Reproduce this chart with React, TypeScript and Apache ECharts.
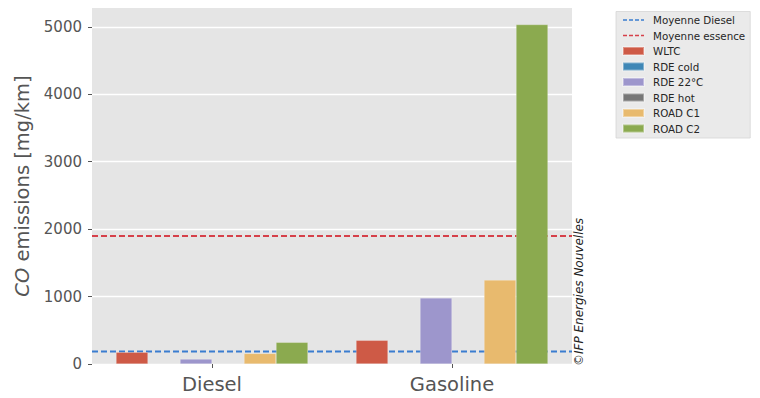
import React, { useEffect, useRef } from "react";
import * as echarts from "echarts";

const categories = ["Diesel", "Gasoline"];
const seriesNames = ["WLTC", "RDE cold", "RDE 22°C", "RDE hot", "ROAD C1", "ROAD C2"];
const wltc = [175, 352];
const rdeCold: (number | null)[] = [null, null];
const rde22 = [74, 980];
const rdeHot: (number | null)[] = [null, null];
const roadC1 = [158, 1245];
const roadC2 = [322, 5035];
const meanDiesel = 185;
const meanEssence = 1900;
const yTicks = [0, 1000, 2000, 3000, 4000, 5000];

const barValues = [wltc, rdeCold, rde22, rdeHot, roadC1, roadC2];
const barColors = ["#CE5A46", "#3F87B6", "#9D96CC", "#777777", "#E8BA6E", "#8BAA4F"];
const FONT = "DejaVu Sans";

export default function App() {
  const ref = useRef<HTMLDivElement>(null);
  useEffect(() => {
    if (!ref.current) return;
    const chart = echarts.init(ref.current, null, { renderer: "svg" });
    const bars = seriesNames.map((name, i) => ({
      name,
      type: "bar",
      xAxisIndex: 0,
      yAxisIndex: 0,
      data: barValues[i].map((v) => (v == null ? "-" : v)),
      barGap: "0%",
      barCategoryGap: "20%",
      itemStyle: { color: barColors[i], borderColor: "rgba(255,255,255,0.35)", borderWidth: 0.6 },
      z: 3,
    }));
    const meanLine = (name: string, value: number, color: string) => ({
      name,
      type: "line",
      xAxisIndex: 1,
      yAxisIndex: 0,
      data: [
        [0, value],
        [1, value],
      ],
      symbol: "none",
      lineStyle: { color, width: 2, type: [6, 3] },
      itemStyle: { color },
      z: 2,
    });
    chart.setOption({
      animation: false,
      textStyle: { fontFamily: FONT },
      grid: {
        left: 92,
        right: 188,
        top: 8,
        bottom: 34,
        show: true,
        backgroundColor: "#E5E5E5",
        borderWidth: 0,
      },
      legend: {
        orient: "vertical",
        left: 616,
        top: 11.5,
        padding: [2.5, 5, 3.5, 6],
        backgroundColor: "#EAEAEA",
        borderColor: "#D6D6D6",
        borderWidth: 0.8,
        itemWidth: 21,
        itemHeight: 8,
        itemGap: 3.5,
        textStyle: { fontFamily: FONT, fontSize: 10.3, color: "#262626", lineHeight: 12, padding: [0, 0, 0, 4] },
        data: [
          { name: "Moyenne Diesel", itemStyle: { opacity: 0 }, lineStyle: { width: 1.3, type: [4, 2] } },
          { name: "Moyenne essence", itemStyle: { opacity: 0 }, lineStyle: { width: 1.3, type: [4, 2] } },
          ...seriesNames.map((n) => ({ name: n, icon: "rect" })),
        ],
      },
      xAxis: [
        {
          type: "category",
          data: categories,
          boundaryGap: true,
          axisLine: { show: false },
          axisTick: { show: true, alignWithLabel: true, length: 4, lineStyle: { color: "#555555" } },
          axisLabel: { fontFamily: FONT, fontSize: 19.5, color: "#555555", margin: 10 },
          splitLine: { show: false },
        },
        { type: "value", min: 0, max: 1, show: false },
      ],
      yAxis: {
        type: "value",
        min: 0,
        max: 5280,
        interval: 1000,
        axisLine: { show: false },
        axisTick: { show: true, length: 4, lineStyle: { color: "#555555" }, customValues: yTicks },
        axisLabel: {
          fontFamily: FONT,
          fontSize: 15,
          color: "#555555",
          margin: 10,
          customValues: yTicks,
          formatter: (v: number) => (yTicks.includes(v) ? String(v) : ""),
        },
        splitLine: { show: true, lineStyle: { color: "#FFFFFF", width: 1.3 } },
        name: "{i|CO} emissions [mg/km]",
        nameLocation: "middle",
        nameRotate: 90,
        nameGap: 56,
        nameTextStyle: {
          fontFamily: FONT,
          fontSize: 19.5,
          color: "#555555",
          rich: { i: { fontFamily: FONT, fontSize: 19.5, fontStyle: "italic", color: "#555555" } },
        },
      },
      graphic: [
        {
          type: "text",
          x: 578.5,
          y: 366,
          rotation: Math.PI / 2,
          style: {
            text: "©IFP Energies Nouvelles",
            font: `italic 12px "${FONT}"`,
            fill: "#222222",
            textAlign: "left",
            textVerticalAlign: "middle",
          },
          z: 10,
        },
      ],
      series: [
        meanLine("Moyenne Diesel", meanDiesel, "#3A7DD0"),
        meanLine("Moyenne essence", meanEssence, "#D6404A"),
        ...bars,
      ],
    });
    return () => chart.dispose();
  }, []);
  return <div ref={ref} style={{ width: 760, height: 398, position: "absolute", left: 0, top: 0 }} />;
}
